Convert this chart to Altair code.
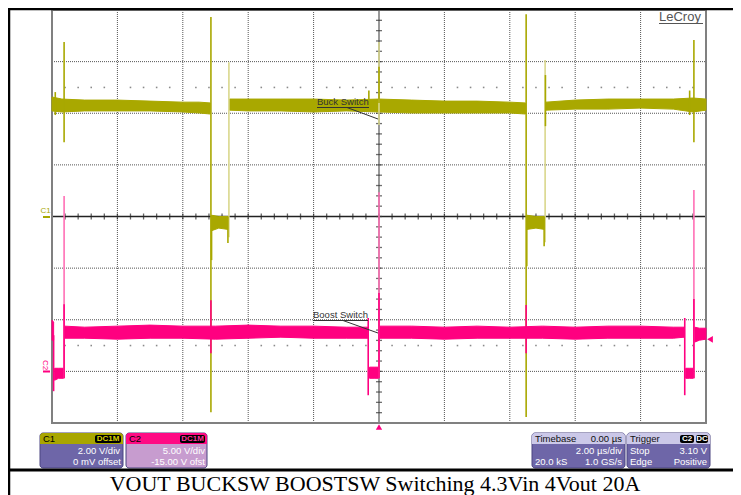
import altair as alt
import pandas as pd

# ---------------- scope setup (from the info boxes) ----------------
C1_VDIV, C1_OFS = 2.0, 0.0      # V/div, offset
C2_VDIV, C2_OFS = 5.0, -15.0
TRIG_LEVEL = 3.10               # V on C2

# ---------------- C1 (buck switch) : noise envelope per state ----------------
c1_seg = ["A"] * 8 + ["B"] * 3 + ["C"] * 11 + ["D"] * 3 + ["E"] * 7
c1_t = [-10, -9.7, -9.0, -8.0, -7.0, -6.0, -5.5, -5.16,
        -5.12, -4.9, -4.62,
        -4.57, -4.0, -3.0, -2.0, -1.0, 0.0, 1.0, 2.0, 3.0, 4.0, 4.48,
        4.52, 4.8, 5.06,
        5.10, 6.0, 7.0, 8.0, 9.0, 9.6, 10.0]
c1_hi = [4.63, 4.55, 4.51, 4.51, 4.47, 4.43, 4.43, 4.40,
         0.05, 0.00, 0.00,
         4.55, 4.55, 4.55, 4.55, 4.51, 4.55, 4.51, 4.47, 4.47, 4.43, 4.40,
         0.05, 0.00, 0.00,
         4.43, 4.51, 4.55, 4.55, 4.55, 4.59, 4.55]
c1_lo = [4.09, 4.05, 4.09, 4.09, 4.09, 4.05, 4.01, 3.97,
         -0.55, -0.45, -0.50,
         4.12, 4.09, 4.09, 4.05, 4.09, 4.05, 4.01, 4.01, 4.01, 4.01, 3.97,
         -0.50, -0.45, -0.50,
         4.12, 4.16, 4.16, 4.20, 4.16, 4.05, 4.12]

# C1 switching edges / ringing spikes: time µs, min V, max V
c1_spk_t = [-9.9, -9.63, -5.14, -5.12, -4.62, -4.59, -0.31, 0.0, 0.0,
            4.50, 4.52, 5.05, 5.08, 5.09, 9.50, 9.63]
c1_spk_lo = [3.93, 2.88, -7.58, -1.69, -1.03, -0.80, 4.40, 3.54, 4.40,
             -7.77, -1.93, -1.15, -1.00, 3.50, 3.93, 2.88]
c1_spk_hi = [4.82, 6.76, 7.73, 0.00, 0.00, 5.98, 4.88, 6.76, 5.80,
             7.84, 0.00, 0.00, 6.06, 5.48, 4.88, 6.84]
c1_spk_kind = ["dark", "dark", "dark", "dark", "dark", "light", "dark", "light", "dark",
               "dark", "dark", "dark", "light", "dark", "dark", "dark"]

# ---------------- C2 (boost switch) : noise envelope per state ----------------
c2_seg = ["a"] * 2 + ["b"] * 3 + ["c"] * 11 + ["d"] * 3 + ["e"] * 11 + ["f"] * 3 + ["g"] * 3
c2_t = [-10, -9.95,
        -9.92, -9.8, -9.65,
        -9.61, -9, -8, -7, -6, -5, -4, -3, -2, -1, -0.34,
        -0.29, -0.15, -0.02,
        0.02, 1, 2, 3, 4, 5, 6, 7, 8, 9, 9.33,
        9.38, 9.5, 9.61,
        9.65, 9.8, 10]
c2_hi = [4.96, 4.77,
         0.30, 0.30, 0.30,
         4.38, 4.28, 4.38, 4.48, 4.38, 4.38, 4.48, 4.38, 4.38, 4.28, 4.28,
         0.41, 0.41, 0.41,
         4.38, 4.38, 4.28, 4.38, 4.28, 4.38, 4.28, 4.38, 4.38, 4.28, 4.28,
         0.30, 0.30, 0.30,
         4.28, 4.18, 4.18]
c2_lo = [3.02, 3.02,
         -0.86, -0.67, -0.67,
         3.21, 3.21, 3.12, 3.21, 3.21, 3.12, 3.21, 3.31, 3.21, 3.21, 3.21,
         -0.67, -0.67, -0.67,
         3.21, 3.21, 3.12, 3.21, 3.21, 3.21, 3.12, 3.21, 3.21, 3.21, 3.31,
         -0.67, -0.67, -0.67,
         2.83, 3.02, 3.12]

c2_spk_t = [-9.95, -9.63, -9.63, -5.14, -0.33, 0.0, 0.0, 4.50, 9.35, 9.63, 9.63]
c2_spk_lo = [-1.92, -0.67, -0.67, 1.76, -2.31, -0.67, -0.67, 1.76, -2.31, -0.67, -0.67]
c2_spk_hi = [3.50, 16.98, 6.50, 6.90, 5.17, 17.36, 7.58, 6.42, 5.17, 17.56, 7.00]
c2_spk_kind = ["dark", "light", "dark", "dark", "dark", "light", "dark", "dark", "dark", "light", "dark"]

# ---------------- texts ----------------
caption = "VOUT BUCKSW BOOSTSW Switching 4.3Vin 4Vout 20A"
buck_label = "Buck Switch"
boost_label = "Boost Switch"

# ---------------- styling / layout ----------------
C1_DARK, C1_LIGHT = "#A9A800", "#D9D78C"
C2_DARK, C2_LIGHT = "#FF0080", "#FF6FB5"
PL, PT, PW, PH = 52, 10, 654, 413   # plot area in page pixels


def T(px):   # page x -> time (µs)
    return (px - PL) / PW * 20 - 10


def D(py):   # page y -> divisions
    return 4 - (py - PT) / PH * 8


XS = alt.Scale(domain=[-10, 10], nice=False, zero=False)
YS = alt.Scale(domain=[-4, 4], nice=False, zero=False)


def X(f):
    return alt.X(f, type="quantitative", scale=XS, axis=None)


def Y(f):
    return alt.Y(f, type="quantitative", scale=YS, axis=None)


layers = []

# ---- grid ----
grid_t = [-10 + 2 * i for i in range(1, 10) if i != 5]
grid_d = [-4 + i for i in range(1, 8) if i != 4]
vg = pd.DataFrame({"t": grid_t, "y0": -4, "y1": 4})
hg = pd.DataFrame({"d": grid_d, "x0": -10, "x1": 10})
layers.append(alt.Chart(vg).mark_rule(color="#555555", strokeWidth=1, strokeDash=[1, 1])
              .encode(x=X("t"), y=Y("y0"), y2="y1"))
layers.append(alt.Chart(hg).mark_rule(color="#555555", strokeWidth=1, strokeDash=[1, 1])
              .encode(y=Y("d"), x=X("x0"), x2="x1"))

# dotted reference rows at +/-2.5 div
dot_t = [round(-10 + 0.4 * i, 2) for i in range(1, 50) if i % 5 != 0]
dots = pd.DataFrame({"t": dot_t * 2, "d": [2.5] * len(dot_t) + [-2.5] * len(dot_t)})
layers.append(alt.Chart(dots).mark_square(size=2.5, color="#8a8a8a", opacity=1)
              .encode(x=X("t"), y=Y("d")))

# center axes with ticks
layers.append(alt.Chart(pd.DataFrame({"t": [0], "y0": [-4], "y1": [4]}))
              .mark_rule(color="#808080", strokeWidth=1.6).encode(x=X("t"), y=Y("y0"), y2="y1"))
layers.append(alt.Chart(pd.DataFrame({"d": [0], "x0": [-10], "x1": [10]}))
              .mark_rule(color="#222222", strokeWidth=1.4).encode(y=Y("d"), x=X("x0"), x2="x1"))
tick_t = [round(-10 + 0.4 * i, 2) for i in range(1, 50)]
tick_d = [round(-4 + 0.2 * i, 2) for i in range(1, 40)]
layers.append(alt.Chart(pd.DataFrame({"t": tick_t, "d": 0})).mark_tick(
    orient="vertical", size=6, thickness=1.3, color="#222222").encode(x=X("t"), y=Y("d")))
layers.append(alt.Chart(pd.DataFrame({"t": 0, "d": tick_d})).mark_tick(
    orient="horizontal", size=6, thickness=1.3, color="#333333").encode(x=X("t"), y=Y("d")))

# plot frame
layers.append(alt.Chart(pd.DataFrame({"x0": [-10], "x1": [10], "y0": [-4], "y1": [4]}))
              .mark_rect(fill=None, fillOpacity=0, stroke="#808080", strokeWidth=2)
              .encode(x=X("x0"), x2="x1", y=Y("y0"), y2="y1"))

# ---- C1 trace ----
c1 = pd.DataFrame({"seg": c1_seg, "t": c1_t,
                   "lo": [(v + C1_OFS) / C1_VDIV for v in c1_lo],
                   "hi": [(v + C1_OFS) / C1_VDIV for v in c1_hi]})
c1s = pd.DataFrame({"t": c1_spk_t, "kind": c1_spk_kind,
                    "lo": [(v + C1_OFS) / C1_VDIV for v in c1_spk_lo],
                    "hi": [(v + C1_OFS) / C1_VDIV for v in c1_spk_hi]})
c1s["col"] = [C1_DARK if k == "dark" else C1_LIGHT for k in c1s["kind"]]
c1s = pd.concat([c1s[c1s.kind == "light"], c1s[c1s.kind == "dark"]])
layers.append(alt.Chart(c1).mark_area(color=C1_DARK, opacity=1, stroke=C1_DARK, strokeWidth=1)
              .encode(x=X("t"), y=Y("lo"), y2="hi", detail="seg:N"))
layers.append(alt.Chart(c1s).mark_rule(strokeWidth=1.6)
              .encode(x=X("t"), y=Y("lo"), y2="hi", color=alt.Color("col:N", scale=None)))

# ---- C2 trace ----
c2 = pd.DataFrame({"seg": c2_seg, "t": c2_t,
                   "lo": [(v + C2_OFS) / C2_VDIV for v in c2_lo],
                   "hi": [(v + C2_OFS) / C2_VDIV for v in c2_hi]})
c2s = pd.DataFrame({"t": c2_spk_t, "kind": c2_spk_kind,
                    "lo": [(v + C2_OFS) / C2_VDIV for v in c2_spk_lo],
                    "hi": [(v + C2_OFS) / C2_VDIV for v in c2_spk_hi]})
c2s["col"] = [C2_DARK if k == "dark" else C2_LIGHT for k in c2s["kind"]]
c2s = pd.concat([c2s[c2s.kind == "light"], c2s[c2s.kind == "dark"]])
layers.append(alt.Chart(c2).mark_area(color=C2_DARK, opacity=1, stroke=C2_DARK, strokeWidth=1)
              .encode(x=X("t"), y=Y("lo"), y2="hi", detail="seg:N"))
layers.append(alt.Chart(c2s).mark_rule(strokeWidth=1.6)
              .encode(x=X("t"), y=Y("lo"), y2="hi", color=alt.Color("col:N", scale=None)))

# ---- annotations (Buck / Boost switch) ----
ann_txt = pd.DataFrame({"t": [T(317), T(313)], "d": [D(105), D(318)],
                        "txt": [buck_label, boost_label]})
layers.append(alt.Chart(ann_txt).mark_text(align="left", baseline="alphabetic", fontSize=9.5,
                                           font="Liberation Sans", color="#333333")
              .encode(x=X("t"), y=Y("d"), text="txt:N"))
ann_ln = pd.DataFrame({
    "x0": [T(317), T(347), T(313), T(343)],
    "x1": [T(369), T(378), T(368), T(378)],
    "y0": [D(107.5), D(107.5), D(320.5), D(320.5)],
    "y1": [D(107.5), D(119), D(320.5), D(333)]})
layers.append(alt.Chart(ann_ln).mark_rule(color="#333333", strokeWidth=1)
              .encode(x=X("x0"), x2="x1", y=Y("y0"), y2="y1"))

# channel ground markers
gl = pd.DataFrame({"x0": [T(43), T(43)], "x1": [T(50), T(50)],
                   "y": [D(217), D(371.5)], "col": [C1_DARK, C2_DARK]})
layers.append(alt.Chart(gl).mark_rule(strokeWidth=2)
              .encode(x=X("x0"), x2="x1", y=Y("y"), color=alt.Color("col:N", scale=None)))
layers.append(alt.Chart(pd.DataFrame({"t": [T(45.5)], "d": [D(210.5)], "s": ["C1"]}))
              .mark_text(fontSize=8, font="Liberation Sans", color=C1_DARK)
              .encode(x=X("t"), y=Y("d"), text="s:N"))
layers.append(alt.Chart(pd.DataFrame({"t": [T(44.5)], "d": [D(365)], "s": ["C2"]}))
              .mark_text(fontSize=8, font="Liberation Sans", color=C2_DARK, angle=90)
              .encode(x=X("t"), y=Y("d"), text="s:N"))

# trigger markers
layers.append(alt.Chart(pd.DataFrame({"t": [T(710)], "d": [(TRIG_LEVEL + C2_OFS) / C2_VDIV]}))
              .mark_point(shape="triangle-left", size=45, filled=True, color=C2_DARK, opacity=1)
              .encode(x=X("t"), y=Y("d")))
layers.append(alt.Chart(pd.DataFrame({"t": [0.0], "d": [D(427)]}))
              .mark_point(shape="triangle-up", size=40, filled=True, color=C2_DARK, opacity=1)
              .encode(x=X("t"), y=Y("d")))

# LeCroy logo
layers.append(alt.Chart(pd.DataFrame({"t": [T(659)], "d": [D(21)], "s": ["LeCroy"]}))
              .mark_text(align="left", baseline="alphabetic", fontSize=13, font="Liberation Sans",
                         color="#555555").encode(x=X("t"), y=Y("d"), text="s:N"))
layers.append(alt.Chart(pd.DataFrame({"x0": [T(659)], "x1": [T(703)], "y": [D(23.5)]}))
              .mark_rule(color="#555555", strokeWidth=1).encode(x=X("x0"), x2="x1", y=Y("y")))

# ---- info boxes ----
boxes = pd.DataFrame({
    "x0": [T(40), T(126), T(532), T(627)], "x1": [T(123), T(207), T(625), T(710)],
    "y0": D(433), "y1": D(468), "yh": D(444),
    "body": ["#6E66A8", "#C79CCF", "#6E66A8", "#6E66A8"],
    "head": ["#A9A600", "#FF0A84", "#CBC8E8", "#CBC8E8"]})
layers.append(alt.Chart(boxes).mark_rect(cornerRadius=3, stroke="#4A4580", strokeWidth=1)
              .encode(x=X("x0"), x2="x1", y=Y("y0"), y2="y1", fill=alt.Fill("body:N", scale=None)))
layers.append(alt.Chart(boxes).mark_rect(cornerRadiusTopLeft=3, cornerRadiusTopRight=3)
              .encode(x=X("x0"), x2="x1", y=Y("y0"), y2="yh", fill=alt.Fill("head:N", scale=None)))
badges = pd.DataFrame({"x0": [T(95), T(180), T(680), T(696)], "x1": [T(121), T(205), T(694), T(708)],
                       "y0": D(435), "y1": D(443)})
layers.append(alt.Chart(badges).mark_rect(cornerRadius=2, color="#000000")
              .encode(x=X("x0"), x2="x1", y=Y("y0"), y2="y1"))

W = "#FFFFFF"
left_txt = pd.DataFrame({
    "s": ["C1", "C2", "Timebase", "Trigger", "20.0 kS", "Stop", "Edge"],
    "x": [43, 129, 535, 630, 535, 630, 630], "y": [439, 439, 439, 439, 462, 451, 462],
    "col": ["#000000", "#000000", "#111111", "#111111", W, W, W]})
right_txt = pd.DataFrame({
    "s": ["2.00 V/div", "0 mV offset", "5.00 V/div", "-15.00 V ofst", "0.00 µs", "2.00 µs/div",
          "1.0 GS/s", "3.10 V", "Positive"],
    "x": [120, 121, 205, 205, 622, 622, 622, 707, 707],
    "y": [451, 462, 451, 462, 439, 451, 462, 451, 462],
    "col": [W, W, W, W, "#111111", W, W, W, W]})
badge_txt = pd.DataFrame({"s": ["DC1M", "DC1M", "C2", "DC"], "x": [108, 192.5, 687, 702],
                          "y": [439, 439, 439, 439], "col": ["#D8D400", "#FF3399", W, W]})
for df, al, fs, fw in [(left_txt, "left", 9.5, "normal"), (right_txt, "right", 9.5, "normal"),
                       (badge_txt, "center", 8, "bold")]:
    df = df.assign(t=[T(v) for v in df["x"]], d=[D(v) for v in df["y"]])
    layers.append(alt.Chart(df).mark_text(align=al, baseline="middle", fontSize=fs, fontWeight=fw,
                                          font="Liberation Sans")
                  .encode(x=X("t"), y=Y("d"), text="s:N", color=alt.Color("col:N", scale=None)))

# ---- frame lines and caption ----
frame = pd.DataFrame({"x0": [T(8), T(9), T(8)], "x1": [T(741), T(9), T(741)],
                      "y0": [D(9), D(8), D(470)], "y1": [D(9), D(495), D(470)],
                      "w": [2.5, 2.5, 3]})
layers.append(alt.Chart(frame).mark_rule(color="#000000")
              .encode(x=X("x0"), x2="x1", y=Y("y0"), y2="y1",
                      strokeWidth=alt.StrokeWidth("w:Q", scale=None)))
layers.append(alt.Chart(pd.DataFrame({"t": [T(375)], "d": [D(491)], "s": [caption]}))
              .mark_text(align="center", baseline="alphabetic", fontSize=22, font="Liberation Serif",
                         color="#000000").encode(x=X("t"), y=Y("d"), text="s:N"))

chart = alt.layer(*layers).properties(
    width=PW, height=PH,
    padding={"left": 44, "top": 2, "right": 27, "bottom": 72},
    autosize=alt.AutoSizeParams(type="none"),
    background="#FFFFFF",
).configure_view(stroke=None)

chart.save("out.html", embed_options={"renderer": "svg", "actions": False})
